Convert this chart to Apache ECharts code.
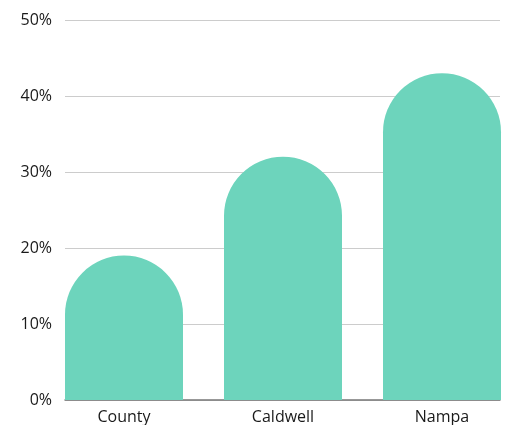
<!DOCTYPE html>
<html><head><meta charset="utf-8">
<script src="https://cdn.jsdelivr.net/npm/echarts@6/dist/echarts.min.js"></script>
<style>html,body{margin:0;padding:0;background:#fff}#c{width:506px;height:425px}</style>
</head><body><div id="c"></div>
<script>
const categories = ['County', 'Caldwell', 'Nampa'];
const values = [19, 32, 43];
const yTicks = [0, 10, 20, 30, 40, 50];

const chart = echarts.init(document.getElementById('c'), null, {renderer: 'canvas'});
const font = 'Open Sans';
const step = 159, half = 59, plotW = 435;
chart.setOption({
  animation: false,
  grid: {left: 65, right: 6, top: 20, bottom: 25},
  xAxis: {
    type: 'value', min: -half / step, max: (plotW - half) / step,
    splitLine: {show: false},
    axisTick: {show: false},
    axisLine: {show: true, onZero: false, lineStyle: {color: '#777', width: 1.5}},
    axisLabel: {
      customValues: categories.map((c, i) => i),
      formatter: v => categories[Math.round(v)],
      color: '#1a1a1a', fontSize: 16, fontFamily: font, margin: 9,
      showMinLabel: true, showMaxLabel: true
    }
  },
  yAxis: {
    type: 'value', min: yTicks[0], max: yTicks[yTicks.length - 1], interval: 10,
    axisLabel: {formatter: '{value}%', color: '#1a1a1a', fontSize: 16, fontFamily: font, margin: 13},
    axisLine: {show: false}, axisTick: {show: false},
    splitLine: {lineStyle: {color: '#cccccc', width: 1}}
  },
  series: [
    {type: 'bar', data: values.map((v, i) => [i, v]), barWidth: 118,
     itemStyle: {color: '#6DD4BC', borderRadius: [59, 59, 0, 0]}, z: 3}
  ]
});
</script></body></html>
